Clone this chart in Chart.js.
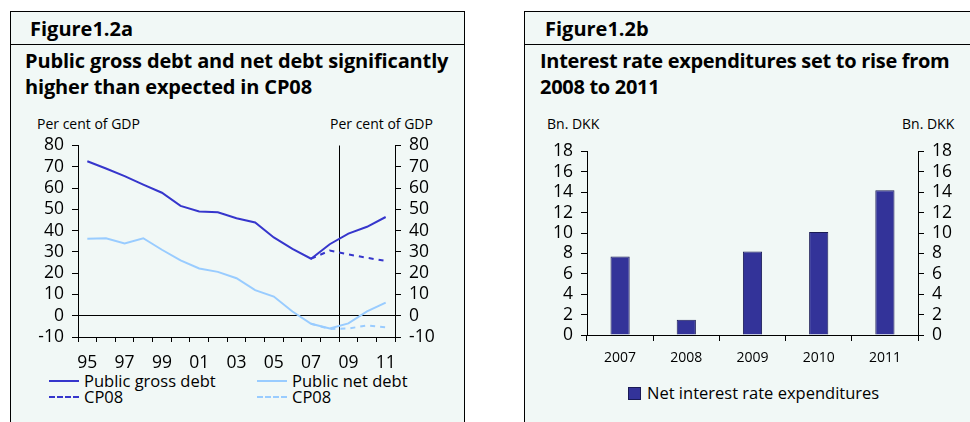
<!DOCTYPE html>
<html>
<head>
<meta charset="utf-8">
<script src="https://cdn.jsdelivr.net/npm/chart.js@4.4.1/dist/chart.umd.min.js"></script>
<style>
  body { margin: 0; background: #fff; width: 970px; height: 422px; position: relative; overflow: hidden; font-family: "Open Sans", sans-serif; color: #000; }
  .panel { position: absolute; top: 11px; background: #f1f8f6; border-top: 1px solid #000; }
  #pa { left: 10px; width: 453px; height: 411px; border-left: 1px solid #000; border-right: 1px solid #000; }
  #pb { left: 524px; width: 446px; height: 411px; border-left: 1px solid #000; }
  .head { position: absolute; left: 0; right: 0; top: 0; height: 32px; border-bottom: 1px solid #000; }
  .fig { position: absolute; top: 3px; font-weight: 700; font-size: 20px; }
  .title { position: absolute; top: 36px; font-weight: 700; font-size: 20px; line-height: 26px; letter-spacing: -0.15px; }
  .unit { position: absolute; top: 102px; font-size: 14px; }
  canvas { position: absolute; }
  .leg { position: absolute; font-size: 16.5px; line-height: 16px; display: flex; align-items: center; }
  .sw { display: inline-block; width: 30px; margin-right: 5px; }
</style>
</head>
<body>
<div class="panel" id="pa">
  <div class="head"><div class="fig" style="left:19px">Figure1.2a</div></div>
  <div class="title" style="left:14px">Public gross debt and net debt significantly<br>higher than expected in CP08</div>
  <div class="unit" style="left:26px">Per cent of GDP</div>
  <div class="unit" style="left:319px">Per cent of GDP</div>
  <div class="leg" style="left:38px;top:361px"><span class="sw" style="border-top:2px solid #3636cc"></span>Public gross debt</div>
  <div class="leg" style="left:38px;top:377px"><span class="sw" style="border-top:2px dashed #3636cc"></span>CP08</div>
  <div class="leg" style="left:246px;top:361px"><span class="sw" style="border-top:2px solid #99ccff"></span>Public net debt</div>
  <div class="leg" style="left:246px;top:377px"><span class="sw" style="border-top:2px dashed #99ccff"></span>CP08</div>
</div>
<div class="panel" id="pb">
  <div class="head"><div class="fig" style="left:20px">Figure1.2b</div></div>
  <div class="title" style="left:15px;letter-spacing:-0.3px">Interest rate expenditures set to rise from<br>2008 to 2011</div>
  <div class="unit" style="left:22px">Bn. DKK</div>
  <div class="unit" style="left:377px">Bn. DKK</div>
  <div class="leg" style="left:103px;top:373px"><span style="display:inline-block;width:11px;height:11px;background:#333399;border:1px solid #1a1a55;margin-right:6px"></span>Net interest rate expenditures</div>
</div>
<canvas id="debtChart" style="left:11px;top:127px" width="453" height="243"></canvas>
<canvas id="rateChart" style="left:525px;top:133px" width="445" height="234"></canvas>
<script>
// Figure 1.2a: debt, per cent of GDP
const years = ['1995','1996','1997','1998','1999','2000','2001','2002','2003','2004','2005','2006','2007','2008','2009','2010','2011'];
const yearTicks = ['95','','97','','99','','01','','03','','05','','07','','09','','11'];
const grossDebt = [72.6, 69.2, 65.6, 61.6, 57.8, 51.6, 49.0, 48.6, 45.8, 43.8, 36.8, 31.4, 26.8, 33.6, 38.6, 41.8, 46.4];
const grossCP08 = [null, null, null, null, null, null, null, null, null, null, null, null, 26.8, 30.6, 28.8, 27.2, 25.8];
const netDebt = [36.2, 36.4, 34.0, 36.4, 31.0, 26.0, 22.2, 20.6, 17.6, 12.0, 9.0, 2.0, -3.8, -6.0, -3.6, 2.0, 6.2];
const netCP08 = [null, null, null, null, null, null, null, null, null, null, null, null, -3.8, -6.2, -6.0, -4.6, -5.4];

// Figure 1.2b: net interest rate expenditures, bn. DKK
const rateYears = ['2007','2008','2009','2010','2011'];
const netInterest = [7.7, 1.5, 8.2, 10.1, 14.2];

const gross = '#3636cc';
const net = '#99ccff';
const fontTick = { family: '"Open Sans", sans-serif', size: 17.5 };

// vertical line between 2008 and 2009
const forecastLine = {
    id: 'forecastLine',
    beforeDatasetsDraw(chart) {
        const x = chart.scales.x;
        const px = (x.getPixelForValue(13) + x.getPixelForValue(14)) / 2;
        const c = chart.ctx;
        c.save();
        c.strokeStyle = '#000';
        c.lineWidth = 1;
        c.beginPath();
        c.moveTo(Math.round(px) + 0.5, chart.chartArea.top);
        c.lineTo(Math.round(px) + 0.5, chart.chartArea.bottom);
        c.stroke();
        c.restore();
    }
};

const line = (data, color, dashed) => ({
    data: data, borderColor: color, borderWidth: 2, pointRadius: 0,
    borderDash: dashed ? [5, 5] : [], tension: 0, spanGaps: false, fill: false
});

new Chart(document.getElementById('debtChart'), {
    type: 'line',
    data: {
        labels: years,
        datasets: [line(grossDebt, gross), line(grossCP08, gross, true), line(netDebt, net), line(netCP08, net, true)]
    },
    options: {
        responsive: false, animation: false,
        layout: { padding: { top: 11, bottom: 0 } },
        plugins: { legend: { display: false }, tooltip: { enabled: false } },
        scales: {
            x: {
                offset: true,
                grid: { offset: true, drawOnChartArea: false, tickColor: '#000', tickLength: 5 },
                border: { color: '#000' },
                ticks: { color: '#000', font: fontTick, autoSkip: false, maxRotation: 0, padding: 11,
                         callback: (v, i) => yearTicks[i] },
                afterFit: s => { s.height = 33; }
            },
            y: {
                position: 'left', min: -10, max: 80,
                grid: { color: c => (c.tick && c.tick.value === 0 ? '#000' : 'rgba(0,0,0,0)'), tickColor: '#000', tickLength: 6 },
                border: { color: '#000' },
                ticks: { stepSize: 10, autoSkip: false, color: '#000', font: fontTick, padding: 8 },
                afterFit: s => { s.width = 67; }
            },
            y2: {
                position: 'right', min: -10, max: 80,
                grid: { drawOnChartArea: false, tickColor: '#000', tickLength: 6 },
                border: { color: '#000' },
                ticks: { stepSize: 10, autoSkip: false, color: '#000', font: fontTick, padding: 8 },
                afterFit: s => { s.width = 69; }
            }
        }
    },
    plugins: [forecastLine]
});

new Chart(document.getElementById('rateChart'), {
    type: 'bar',
    data: {
        labels: rateYears,
        datasets: [{
            label: 'Net interest rate expenditures',
            data: netInterest,
            backgroundColor: '#333399',
            borderColor: '#1a1a55',
            borderWidth: 1,
            categoryPercentage: 1,
            barPercentage: 0.29
        }]
    },
    options: {
        responsive: false, animation: false,
        layout: { padding: { top: 10 } },
        plugins: { legend: { display: false }, tooltip: { enabled: false } },
        scales: {
            x: {
                grid: { offset: true, drawOnChartArea: false, tickColor: '#000', tickLength: 6 },
                border: { color: '#000' },
                ticks: { color: '#000', font: { family: '"Open Sans", sans-serif', size: 14 }, maxRotation: 0, padding: 9 },
                afterFit: s => { s.height = 32; }
            },
            y: {
                position: 'left', min: 0, max: 18,
                grid: { drawOnChartArea: false, tickColor: '#000', tickLength: 6 },
                border: { color: '#000' },
                ticks: { stepSize: 2, autoSkip: false, color: '#000', font: fontTick, padding: 8 },
                afterFit: s => { s.width = 62; }
            },
            y2: {
                position: 'right', min: 0, max: 18,
                grid: { drawOnChartArea: false, tickColor: '#000', tickLength: 6 },
                border: { color: '#000' },
                ticks: { stepSize: 2, autoSkip: false, color: '#000', font: fontTick, padding: 8 },
                afterFit: s => { s.width = 52; }
            }
        }
    }
});
</script>
</body>
</html>
